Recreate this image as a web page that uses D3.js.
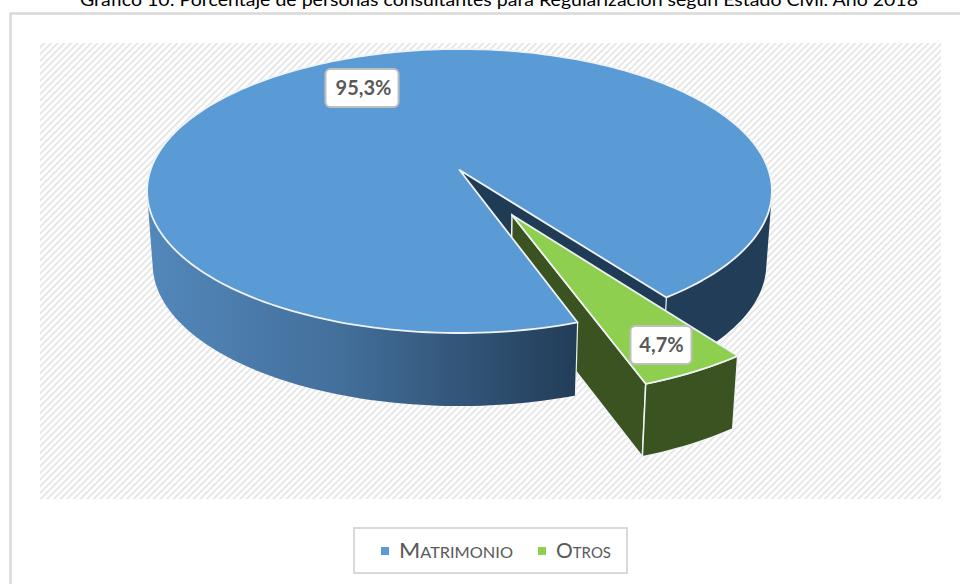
<!DOCTYPE html>
<html>
<head>
<meta charset="utf-8">
<script src="https://cdnjs.cloudflare.com/ajax/libs/d3/7.8.5/d3.min.js"></script>
<style>
  html, body { margin: 0; padding: 0; background: #fff; overflow: hidden; }
  text { font-family: Lato, "Open Sans", sans-serif; }
</style>
</head>
<body>
<div id="chart"></div>
<script>
var categories = ["Matrimonio", "Otros"];
var values = [95.3, 4.7];
var valueLabels = ["95,3%", "4,7%"];
var colors = ["#5b9bd5", "#8fcf4f"];
var titleText = "Gráfico 10: Porcentaje de personas consultantes para Regularización según Estado Civil. Año 2018";

var width = 960, height = 584;

var svg = d3.select("#chart").append("svg")
    .attr("width", width)
    .attr("height", height);

var defs = svg.append("defs");

var hatch = defs.append("pattern")
    .attr("id", "hatch")
    .attr("patternUnits", "userSpaceOnUse")
    .attr("width", 4.7).attr("height", 4.7)
    .attr("patternTransform", "rotate(45)");
hatch.append("rect").attr("width", 1.6).attr("height", 4.7).attr("fill", "#e2e2e2");

var wallGrad = defs.append("linearGradient")
    .attr("id", "wallGrad")
    .attr("gradientUnits", "userSpaceOnUse")
    .attr("x1", 147).attr("x2", 577).attr("y1", 0).attr("y2", 0);
wallGrad.append("stop").attr("offset", "0").attr("stop-color", "#5388bb");
wallGrad.append("stop").attr("offset", "0.45").attr("stop-color", "#436f9b");
wallGrad.append("stop").attr("offset", "1").attr("stop-color", "#223d58");

// frame: only the left and top rules are inside the crop
svg.append("path").attr("d", "M10.5,584V13.5H960")
    .attr("fill", "none").attr("stroke", "#d9d9d9").attr("stroke-width", 2.5);

svg.append("text").attr("x", 499).attr("y", 6)
    .attr("text-anchor", "middle")
    .attr("font-size", 16.5)
    .attr("textLength", 838)
    .attr("lengthAdjust", "spacingAndGlyphs")
    .attr("fill", "#000")
    .text(titleText);

// plot area
svg.append("rect").attr("x", 40).attr("y", 43).attr("width", 901).attr("height", 456)
    .attr("fill", "url(#hatch)");

// perspective projection of the pie plane
var cx = 459.5, cy = 170, a = 309, b = 138.9, k = 0.148;
var depth = 73, bottomScale = 0.982;
var explode = 0.349;
var firstAngle = 160.8 * Math.PI / 180;

function project(u, v, low) {
  var w = 1 - k * v;
  var s = low ? bottomScale : 1;
  return [cx + s * a * u / w, cy + b * v / w + (low ? depth : 0)];
}

var pie = d3.pie().sort(null).startAngle(firstAngle).endAngle(firstAngle + 2 * Math.PI);
var arcs = pie(values);

function sliceOffset(d, i) {
  if (i === 0) return [0, 0];
  var mid = (d.startAngle + d.endAngle) / 2;
  return [explode * Math.sin(mid), -explode * Math.cos(mid)];
}

// rim points between two pie angles
function rim(d, i, from, to, low) {
  var off = sliceOffset(d, i), n = Math.max(2, Math.ceil(Math.abs(to - from) * 40));
  return d3.range(n + 1).map(function(j) {
    var t = from + (to - from) * j / n;
    return project(off[0] + Math.sin(t), off[1] - Math.cos(t), low);
  });
}

var line = d3.line();
function shape(pts) { return line(pts) + "Z"; }

function topFace(d, i) {
  var off = sliceOffset(d, i);
  return [project(off[0], off[1], false)].concat(rim(d, i, d.startAngle, d.endAngle, false));
}
function rimWall(d, i, from, to) {
  return rim(d, i, from, to, false).concat(rim(d, i, to, from, true));
}
// hull so the silhouette between top and bottom rim is filled
function rimHull(d, i, from, to) {
  return d3.polygonHull(rim(d, i, from, to, false).concat(rim(d, i, from, to, true)));
}
function edgeWall(d, i, t) {
  var off = sliceOffset(d, i);
  return [project(off[0], off[1], false),
          project(off[0] + Math.sin(t), off[1] - Math.cos(t), false),
          project(off[0] + Math.sin(t), off[1] - Math.cos(t), true),
          project(off[0], off[1], true)];
}
function drop(d, i, t) {
  var off = sliceOffset(d, i);
  return line([project(off[0] + Math.sin(t), off[1] - Math.cos(t), false),
               project(off[0] + Math.sin(t), off[1] - Math.cos(t), true)]);
}

var g = svg.append("g");
var blue = arcs[0], green = arcs[1];
var edge = "#f0f3f6";
var quarter = Math.PI / 2;

// back to front: cut wall of the big slice, then the inner wall of the small one
g.append("path").attr("d", shape(edgeWall(blue, 0, blue.endAngle)))
    .attr("fill", "#1f3b55");
g.append("path").attr("d", shape(edgeWall(green, 1, green.endAngle)))
    .attr("fill", "#3b5320").attr("stroke", edge).attr("stroke-width", 1.5);

// big slice outer wall, front-left part and right part
g.append("path").attr("d", shape(rimHull(blue, 0, blue.startAngle, 3 * quarter)))
    .attr("fill", "url(#wallGrad)");
g.append("path").attr("d", shape(rimHull(blue, 0, 5 * quarter, blue.endAngle)))
    .attr("fill", "#223d58");
g.append("path").attr("d", drop(blue, 0, blue.startAngle))
    .attr("fill", "none").attr("stroke", edge).attr("stroke-width", 1.2);
g.append("path").attr("d", drop(blue, 0, blue.endAngle))
    .attr("fill", "none").attr("stroke", edge).attr("stroke-width", 1.2);

g.append("path").attr("d", shape(topFace(blue, 0)))
    .attr("fill", colors[0]).attr("stroke", edge).attr("stroke-width", 1.8)
    .attr("stroke-linejoin", "round");

g.append("path").attr("d", shape(rimWall(green, 1, green.startAngle, green.endAngle)))
    .attr("fill", "#3b5320").attr("stroke", edge).attr("stroke-width", 1.5);
g.append("path").attr("d", shape(topFace(green, 1)))
    .attr("fill", colors[1]).attr("stroke", edge).attr("stroke-width", 1.8)
    .attr("stroke-linejoin", "round");

// data labels
var labelPos = [[362, 88], [661, 345]];
var labelW = [73, 61];
var labelTextX = [363.5, 661.5];
valueLabels.forEach(function(t, i) {
  g.append("rect")
      .attr("x", labelPos[i][0] - labelW[i] / 2).attr("y", labelPos[i][1] - 19)
      .attr("width", labelW[i]).attr("height", 38).attr("rx", 5)
      .attr("fill", "#fff").attr("stroke", "#bfbfbf").attr("stroke-width", 2);
  g.append("text").attr("x", labelTextX[i]).attr("y", labelPos[i][1] + 7)
      .attr("text-anchor", "middle")
      .attr("font-size", 20).attr("font-weight", 700).attr("fill", "#595959")
      .text(t);
});

// legend
svg.append("rect").attr("x", 354).attr("y", 528).attr("width", 273).attr("height", 45)
    .attr("fill", "#fff").attr("stroke", "#d9d9d9").attr("stroke-width", 2);
var legendX = [381, 538];
var legendW = [114, 55];
categories.forEach(function(c, i) {
  svg.append("rect").attr("x", legendX[i]).attr("y", 547).attr("width", 8).attr("height", 8)
      .attr("fill", colors[i]);
  svg.append("text").attr("x", legendX[i] + 18).attr("y", 558)
      .attr("font-size", 21).attr("fill", "#595959")
      .attr("textLength", legendW[i])
      .attr("lengthAdjust", "spacingAndGlyphs")
      .style("font-variant", "small-caps")
      .text(c);
});
</script>
</body>
</html>
